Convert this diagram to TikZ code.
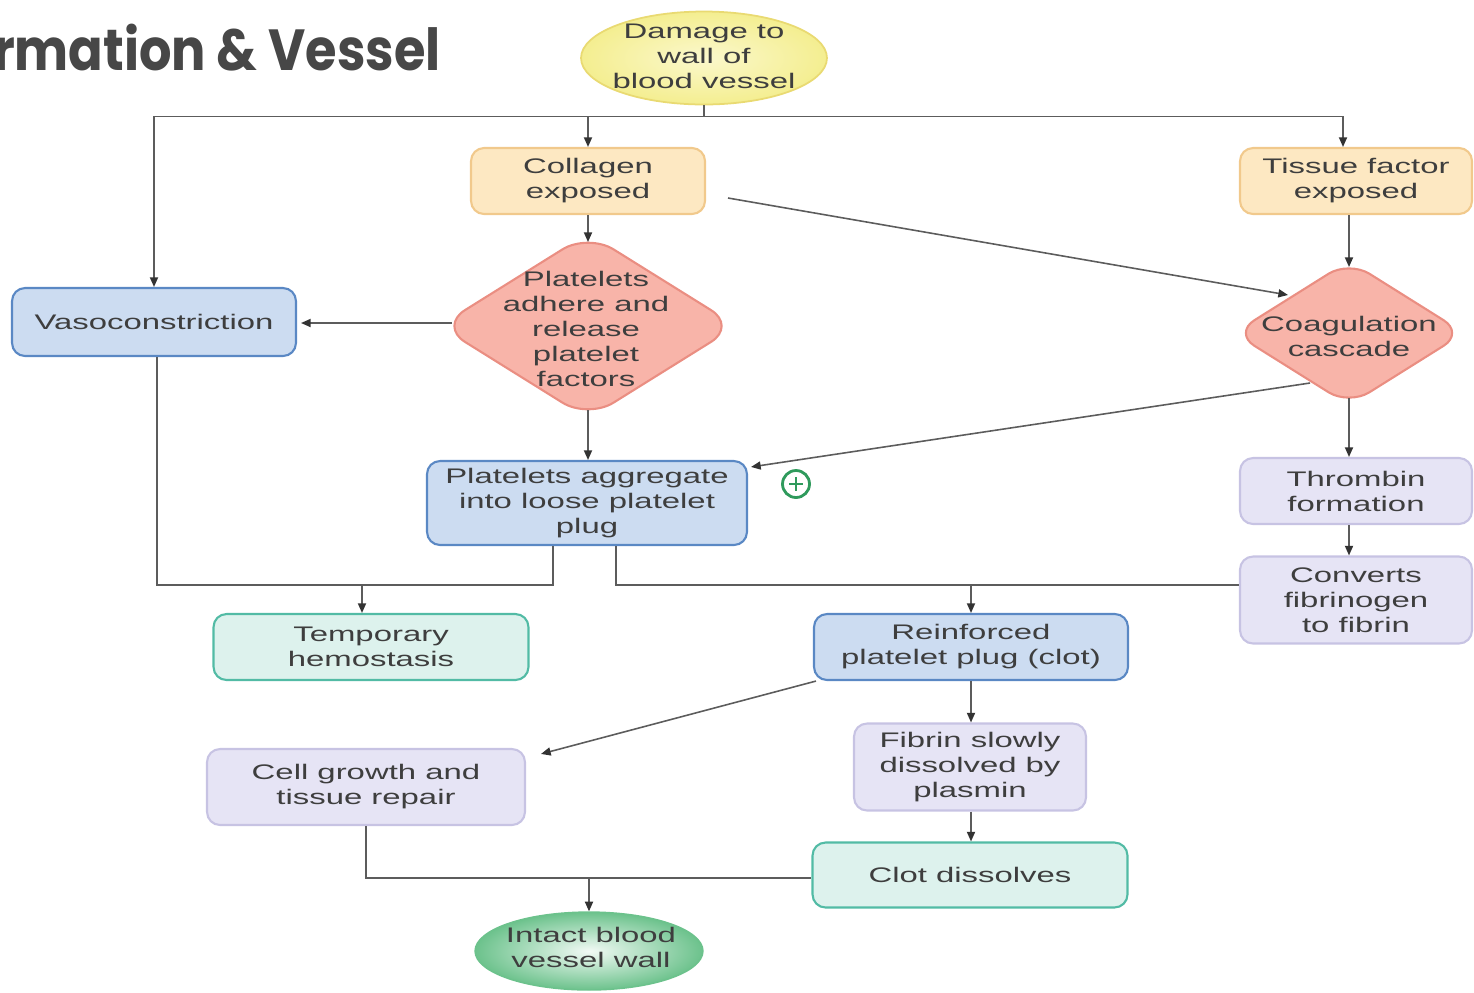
\documentclass[tikz,border=0pt]{standalone}
\usepackage{fontspec}
\setmainfont{Liberation Sans}[FakeStretch=1.56]
\newfontfamily\ttlfont{Poppins}[FakeStretch=0.88]
\usetikzlibrary{shapes.geometric,arrows.meta,calc}
\definecolor{yelC}{HTML}{FBF8CC}
\definecolor{yelE}{HTML}{F4EE90}
\definecolor{yelD}{HTML}{E9DA72}
\definecolor{orF}{HTML}{FDE8C2}
\definecolor{orD}{HTML}{F1C98C}
\definecolor{pkF}{HTML}{F8B4A9}
\definecolor{pkD}{HTML}{EA8E82}
\definecolor{blF}{HTML}{CCDCF1}
\definecolor{blD}{HTML}{5A88C4}
\definecolor{lvF}{HTML}{E6E4F5}
\definecolor{lvD}{HTML}{C7C3E3}
\definecolor{tlF}{HTML}{DDF2ED}
\definecolor{tlD}{HTML}{52BBA5}
\definecolor{grC}{HTML}{F2FAF5}
\definecolor{grE}{HTML}{6CC28C}
\definecolor{plusC}{HTML}{2F9A5C}
\definecolor{lineC}{HTML}{5C5C5C}
\definecolor{arrC}{HTML}{333333}
\definecolor{txt}{HTML}{3E3E3E}
\definecolor{ttl}{HTML}{474747}
\newcommand\bfnt{\fontsize{12}{14.2}\selectfont}
\tikzset{
  box/.style={rectangle, rounded corners=0.26cm, line width=1.2pt, align=center,
    inner sep=1pt, text=txt, font=\bfnt},
  orbox/.style={box, fill=orF, draw=orD},
  blbox/.style={box, fill=blF, draw=blD},
  lvbox/.style={box, fill=lvF, draw=lvD},
  tlbox/.style={box, fill=tlF, draw=tlD},
  dia/.style={diamond, inner sep=0pt, line width=1.2pt, fill=pkF, draw=pkD},
  lbl/.style={align=center, text=txt, font=\bfnt, inner sep=0pt},
  conn/.style={draw=lineC, line width=0.9pt},
  arr/.style={conn, -{Triangle[length=5.5pt,width=4.6pt,color=arrC]}},
  plusnode/.style={circle, draw=plusC, line width=1.6pt, minimum size=0.54cm, inner sep=0pt}
}
\begin{document}
\begin{tikzpicture}[x=0.02cm,y=-0.02cm]
\useasboundingbox (0,0) rectangle (1474,992);
\node[anchor=base east, text=ttl, inner sep=0pt, font=\ttlfont\bfseries\fontsize{33}{36}\selectfont] (title) at (441,70) {rmation \& Vessel};

% top ellipse
\node[ellipse, minimum width=4.92cm, minimum height=1.86cm, inner sep=0pt, draw=yelD, line width=1pt, inner color=yelC, outer color=yelE] (damage) at (704,58) {};
\node[lbl] (damageT) at (704,56) {Damage to\\wall of\\blood vessel};

% boxes
\node[orbox, minimum width=4.68cm, minimum height=1.32cm] (coll) at (588,181) {Collagen\\exposed};
\node[orbox, minimum width=4.64cm, minimum height=1.32cm] (tiss) at (1356,181) {Tissue factor\\exposed};
\node[blbox, minimum width=5.68cm, minimum height=1.36cm] (vaso) at (154,322) {Vasoconstriction};

\node[dia, rounded corners=0.6cm, minimum width=5.96cm, minimum height=3.72cm] (pd) at (588,326) {};
\node[lbl] (pdT) at (586,329) {Platelets\\adhere and\\release\\platelet\\factors};

\node[dia, rounded corners=0.48cm, minimum width=4.62cm, minimum height=2.90cm] (cc) at (1349,333) {};
\node[lbl] (ccT) at (1349,336) {Coagulation\\cascade};

\node[blbox, minimum width=6.40cm, minimum height=1.68cm] (agg) at (587,503) {Platelets aggregate\\into loose platelet\\plug};
\node[plusnode] (plus) at (796,484) {};
\draw[draw=plusC, line width=1.4pt] ($(plus)+(-7,0)$) -- ($(plus)+(7,0)$) ($(plus)+(0,-7)$) -- ($(plus)+(0,7)$);

\node[lvbox, minimum width=4.64cm, minimum height=1.32cm] (thr) at (1356,491) {Thrombin\\formation};
\node[lvbox, minimum width=4.64cm, minimum height=1.74cm] (conv) at (1356,600) {Converts\\fibrinogen\\to fibrin};

\node[tlbox, minimum width=6.30cm, minimum height=1.32cm] (temp) at (371,647) {Temporary\\hemostasis};
\node[blbox, minimum width=6.28cm, minimum height=1.32cm] (reinf) at (971,647) {Reinforced\\platelet plug (clot)};
\node[lvbox, minimum width=6.36cm, minimum height=1.52cm] (cell) at (366,787) {Cell growth and\\tissue repair};
\node[lvbox, minimum width=4.64cm, minimum height=1.74cm] (fib) at (970,767) {Fibrin slowly\\dissolved by\\plasmin};
\node[tlbox, minimum width=6.30cm, minimum height=1.30cm] (clot) at (970,875) {Clot dissolves};

\node[ellipse, minimum width=4.56cm, minimum height=1.56cm, inner sep=0pt, draw=grE, line width=0.8pt, inner color=grC, outer color=grE] (intact) at (589,951) {};
\node[lbl] (intactT) at (591,947) {Intact blood\\vessel wall};

% connectors
\coordinate (bus) at ($(damage.south)+(0,11)$);
\draw[conn] (damage.south) -- (bus);
\draw[arr] (bus) -| (vaso.north);
\draw[arr] (bus) -| ($(tiss.north)+(-13,0)$);
\draw[arr] (coll.north |- bus) -- (coll.north);
\draw[arr] (coll.south) -- ($(pd.center)+(0,-84)$);
\draw[arr] ($(tiss.south)+(-7,0)$) -- ($(cc.center)+(0,-66)$);
\draw[arr] ($(coll.east)+(22,17)$) -- ($(cc.center)+(-61,-38)$);
\draw[arr] ($(pd.center)+(-136,-3)$) -- ($(vaso.east)+(4,1)$);
\draw[arr] ($(pd.center)+(0,84)$) -- (agg.north -| pd.center);
\draw[arr] ($(cc.center)+(-39,50)$) -- ($(agg.north east)+(3,7)$);
\draw[arr] ($(cc.center)+(0,65)$) -- (thr.north -| cc.center);
\draw[arr] (thr.south -| cc.center) -- (conv.north -| cc.center);

\coordinate (m1) at ($(agg.south)+(-34,39)$);
\coordinate (m2) at ($(temp.north)+(-9,0)$);
\draw[conn] ($(vaso.south)+(3,0)$) |- (m1) -- ($(agg.south)+(-34,0)$);
\draw[arr] (m2 |- m1) -- (m2);
\draw[conn] ($(agg.south)+(29,0)$) |- (conv.west |- m1);
\draw[arr] (reinf.north |- m1) -- (reinf.north);

\draw[arr] ($(reinf.south west)+(3,0)$) -- ($(cell.north east)+(15,6)$);
\draw[arr] (reinf.south) -- (fib.north -| reinf.south);
\draw[arr] (fib.south -| reinf.south) -- (clot.north -| reinf.south);
\coordinate (m3) at ($(clot.west)+(0,3)$);
\draw[conn] (cell.south) |- (m3);
\draw[arr] (intact.north |- m3) -- (intact.north);
\end{tikzpicture}
\end{document}
